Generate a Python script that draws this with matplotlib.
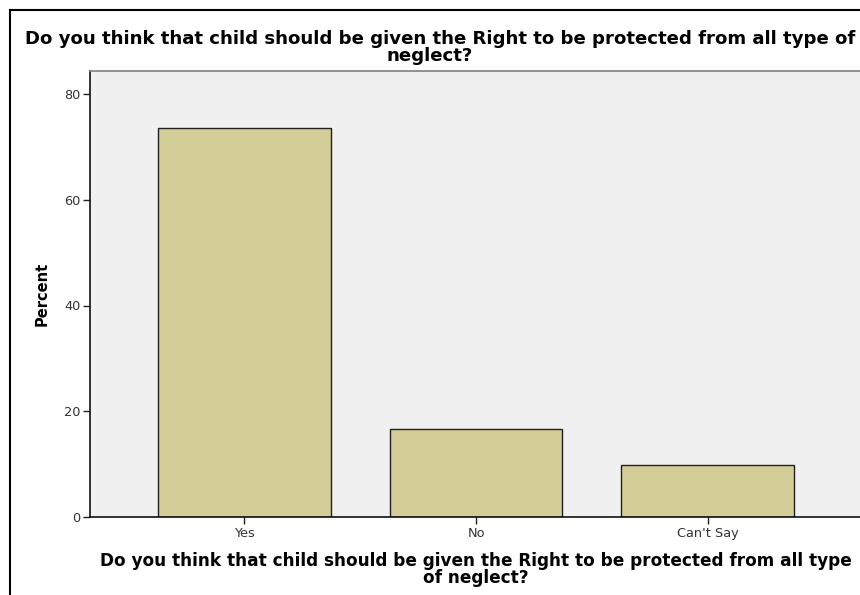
import matplotlib
matplotlib.use("Agg")
import matplotlib.pyplot as plt
from matplotlib.lines import Line2D

categories = ["Yes", "No", "Can't Say"]
percent = [73.6, 16.6, 9.8]
yticks = [0, 20, 40, 60, 80]
title_lines = ["Do you think that child should be given the Right to be protected from all type of", "neglect?"]
xlabel_lines = ["Do you think that child should be given the Right to be protected from all type", "of neglect?"]
ylabel = "Percent"

W, H = 860, 595
fig = plt.figure(figsize=(W / 100, H / 100), dpi=100)
fig.patch.set_facecolor("white")
renderer = fig.canvas.get_renderer()

FONT = "DejaVu Sans"

def fit_size(txt, target_px, bold=True, base=10.0):
    t = fig.text(0, 0, txt, fontsize=base, fontweight="bold" if bold else "normal", family=FONT)
    w = t.get_window_extent(renderer).width
    t.remove()
    return base * target_px / w

l, r, t, b = 90, 862, 71, 517
ax = fig.add_axes([l / W, 1 - b / H, (r - l) / W, (b - t) / H])
ax.set_facecolor("#f0f0f0")

x = list(range(len(categories)))
ax.bar(x, percent, width=0.747, color="#d3ce97", edgecolor="#202020", linewidth=1.0, zorder=2)

ax.set_xlim(-0.667, 2.667)
ymax = 80 * (b - t) / (b - 94)
ax.set_ylim(0, ymax)
ax.set_yticks(yticks)
ax.set_xticks(x)

tick_fs = fit_size("Can't Say", 62, bold=False)
ax.set_xticklabels(categories, fontsize=tick_fs, color="#333333", family=FONT)
ax.set_yticklabels([str(v) for v in yticks], fontsize=tick_fs, color="#333333", family=FONT)
ax.tick_params(axis="both", direction="out", length=5, width=1, color="#222222", pad=2)

for s in ["left", "bottom"]:
    ax.spines[s].set_color("#111111")
    ax.spines[s].set_linewidth(1.2)
ax.spines["top"].set_color("#808080")
ax.spines["top"].set_linewidth(1.2)
ax.spines["right"].set_visible(False)

ylab_fs = fit_size(ylabel, 64)
fig.text(42 / W, 1 - 294 / H, ylabel, rotation=90, ha="center", va="center",
         fontsize=ylab_fs, fontweight="bold", family=FONT)

title_fs = fit_size(title_lines[0], 836)
fig.text(440 / W, 1 - 44 / H, title_lines[0], ha="center", va="baseline", fontsize=title_fs,
         fontweight="bold", family=FONT)
fig.text(430 / W, 1 - 61 / H, title_lines[1], ha="center", va="baseline", fontsize=title_fs,
         fontweight="bold", family=FONT)

xl_fs = fit_size(xlabel_lines[0], 752)
fig.text(476 / W, 1 - 566 / H, xlabel_lines[0], ha="center", va="baseline", fontsize=xl_fs,
         fontweight="bold", family=FONT)
fig.text(476 / W, 1 - 583 / H, xlabel_lines[1], ha="center", va="baseline", fontsize=xl_fs,
         fontweight="bold", family=FONT)

fig.add_artist(Line2D([10 / W, 10 / W], [0, 1 - 10 / H], transform=fig.transFigure, color="black", lw=1.5))
fig.add_artist(Line2D([10 / W, 1], [1 - 10 / H, 1 - 10 / H], transform=fig.transFigure, color="black", lw=1.5))

fig.savefig("out.png", dpi=100)
